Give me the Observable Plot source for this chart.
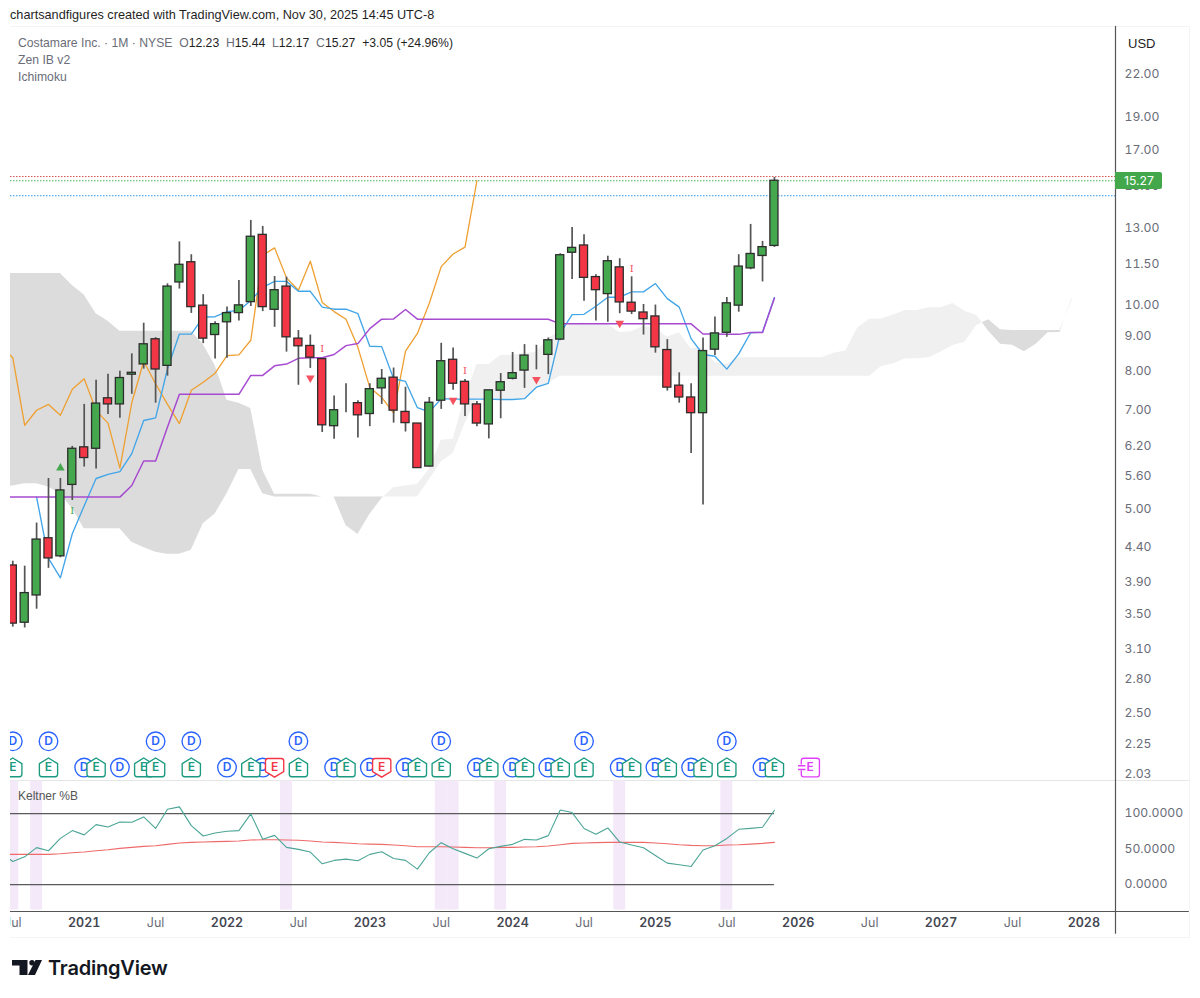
<!DOCTYPE html>
<html>
<head>
<meta charset="utf-8">
<script src="https://cdn.jsdelivr.net/npm/d3@7"></script>
<script src="https://cdn.jsdelivr.net/npm/@observablehq/plot@0.6"></script>
<style>
html,body{margin:0;padding:0;background:#fff;overflow:hidden}
#page{position:relative;width:1200px;height:998px;font-family:"Liberation Sans",Arial,sans-serif}
#page>*{position:absolute}
#credit{left:10px;top:8px;font-size:12.7px;color:#1f1f1f;white-space:nowrap}
#frame{left:10px;top:26px;width:1180px;height:912px;box-sizing:border-box;border:1px solid #f4f4f4;border-left:none}
#price{left:0;top:26px}
#osc{left:0;top:780px}
#mask{left:0;top:26px;width:10px;height:912px;background:#fff}
.legend{left:18px;font-size:12.2px;color:#6a6d78;white-space:nowrap}
.legend b{font-weight:400;color:#1f1f1f}
#usd{left:1128px;top:36px;font-size:13px;color:#1f1f1f}
#last{left:1115px;top:172px;width:47px;height:17px;line-height:17px;background:#43a84b;color:#fff;font-size:12.2px;font-family:Inter,sans-serif;padding-left:9px;box-sizing:border-box;border-radius:0 2px 2px 0}
#kb{left:18px;top:789px;font-size:12px;color:#555}
#logo{left:12px;top:960px}
#brand{left:48px;top:956px;font-size:20px;font-weight:600;color:#131722;letter-spacing:-.2px;font-family:Inter,sans-serif}
</style>
</head>
<body>
<div id="page">
  <div id="credit">chartsandfigures created with TradingView.com, Nov 30, 2025 14:45 UTC-8</div>
  <div id="frame"></div>
  <div id="price"></div>
  <div id="osc"></div>
  <div id="mask"></div>
  <div class="legend" style="top:36px">Costamare Inc. · 1M · NYSE&nbsp; O<b>12.23</b>&nbsp; H<b>15.44</b>&nbsp; L<b>12.17</b>&nbsp; C<b>15.27</b>&nbsp; <b>+3.05 (+24.96%)</b></div>
  <div class="legend" style="top:53px">Zen IB v2</div>
  <div class="legend" style="top:69.5px">Ichimoku</div>
  <div id="usd">USD</div>
  <div id="last">15.27</div>
  <div id="kb">Keltner %B</div>
  <svg id="logo" width="30" height="16" viewBox="0 0 30 16"><path d="M0 0H15.5V15H7.5V5.4H0Z" fill="#131722"/><circle cx="20" cy="2.7" r="2.7" fill="#131722"/><path d="M23.5 0H30L23 15H16Z" fill="#131722"/></svg>
  <div id="brand">TradingView</div>
</div>
<script>
// Month index: 0 = Jan 2021. Candles run Jul 2020 (-6) to Nov 2025 (58).
const firstMonth = -6;
const opens = [4.12,3.39,3.72,4.52,4.25,5.42,6.16,6.13,7.28,7.13,7.89,8.17,8.90,8.13,10.80,11.57,9.98,9.03,9.43,9.73,10.10,12.70,9.84,10.65,8.92,8.70,8.32,6.62,7.13,7.16,6.90,7.53,7.81,6.95,6.68,5.77,7.22,8.30,7.70,7.13,6.66,7.47,7.78,8.00,8.44,8.44,8.89,11.95,12.25,11.00,10.38,11.37,10.08,9.75,9.62,8.58,7.60,7.30,6.92,8.59,9.10,9.98,11.33,11.82,12.23];
const highs = [4.18,4.11,4.76,5.54,5.54,6.18,7.13,7.74,7.90,7.98,8.47,9.40,8.95,10.75,12.40,11.87,10.36,9.45,9.93,10.87,13.34,13.07,11.02,11.00,9.17,9.03,8.34,7.34,7.65,7.22,7.65,8.03,8.07,7.56,6.68,7.30,8.78,8.64,7.76,7.20,7.48,7.92,8.51,8.74,8.72,8.94,11.91,13.02,12.70,11.09,11.81,11.71,11.01,10.02,10.00,8.89,7.94,7.65,8.94,9.60,10.26,11.87,13.16,12.42,15.44];
const lows = [3.34,3.33,3.55,4.08,4.23,5.14,5.76,5.72,6.89,6.80,7.38,8.04,7.16,7.85,10.56,9.72,8.77,8.32,8.34,9.47,9.95,9.78,9.27,8.52,7.61,8.06,6.48,6.33,6.93,6.36,6.61,7.13,6.69,6.49,5.74,5.76,7.01,7.48,6.84,6.61,6.34,6.79,7.75,7.53,8.02,7.89,8.86,10.91,10.13,9.47,9.43,9.71,9.68,9.03,8.49,7.46,7.16,6.03,5.06,8.42,8.96,9.76,11.28,10.82,12.17];
const closes = [3.38,3.75,4.50,4.22,5.32,6.13,5.94,7.15,7.13,7.80,7.94,8.75,8.03,10.65,11.47,9.93,8.92,9.37,9.73,9.99,12.62,9.93,10.52,8.96,8.69,8.36,6.64,6.99,7.13,6.87,7.51,7.78,6.98,6.69,5.74,7.17,8.26,7.65,7.13,6.68,7.48,7.69,7.93,8.42,8.44,8.87,11.85,12.15,10.97,10.52,11.61,10.09,9.78,9.53,8.66,7.55,7.30,6.92,8.55,9.08,10.06,11.40,11.90,12.18,15.27];

// Ichimoku (lines that run off the left edge start one month earlier than the candles)
const tenkanStart = -4;
const tenkan = [5.20,4.22,3.95,4.59,5.05,5.54,5.62,5.67,6.03,6.75,6.81,8.05,9.06,9.06,9.60,9.61,9.78,9.82,10.16,10.62,10.84,10.84,10.48,10.48,9.93,9.86,9.86,9.71,8.69,8.68,7.78,7.71,7.05,6.95,7.27,7.26,7.26,7.26,7.26,7.25,7.25,7.27,7.56,7.66,9.08,9.68,9.69,9.96,10.27,10.27,10.46,10.46,10.76,10.22,9.93,8.92,8.45,8.40,8.04,8.47,9.10,9.12,10.26];
const kijunStart = -7;
const kijun = [5.20,5.20,5.20,5.20,5.20,5.20,5.20,5.20,5.20,5.20,5.20,5.41,5.88,5.88,6.60,7.38,7.38,7.38,7.38,7.38,7.38,7.87,7.87,8.13,8.18,8.34,8.36,8.36,8.45,8.71,8.77,9.23,9.53,9.54,9.85,9.53,9.53,9.53,9.53,9.53,9.53,9.53,9.53,9.53,9.53,9.53,9.53,9.38,9.38,9.38,9.38,9.38,9.38,9.38,9.38,9.38,9.38,9.38,9.38,9.06,9.06,9.05,9.05,9.11,9.11,10.24];
const chikouStart = -7;
const chikou = [8.69,8.36,6.64,6.99,7.13,6.87,7.51,7.78,6.98,6.69,5.74,7.17,8.26,7.65,7.13,6.68,7.48,7.69,7.93,8.42,8.44,8.87,11.85,12.15,10.97,10.52,11.61,10.09,9.78,9.53,8.66,7.55,7.30,6.92,8.55,9.08,10.06,11.40,11.90,12.18,15.27];
const cloudStart = -7;
const spanA = [5.40,5.40,5.44,5.44,5.38,5.26,5.00,4.67,4.67,4.67,4.67,4.46,4.38,4.31,4.28,4.28,4.34,4.75,4.91,5.26,5.71,5.71,5.26,5.20,5.20,5.20,5.20,5.20,5.20,4.72,4.58,4.90,5.17,5.37,5.40,5.43,5.71,6.31,6.33,7.30,8.17,8.17,8.42,8.42,8.49,8.51,8.92,9.14,9.38,9.41,9.35,9.36,9.11,9.13,9.30,9.24,8.96,9.10,8.62,8.65,8.22,8.17,8.36,8.36,8.36,8.36,8.36,8.36,8.36,8.36,8.49,8.55,9.25,9.53,9.54,9.67,9.82,9.82,9.91,9.91,10.05,9.79,9.65,9.15,8.75,8.72,8.53,8.75,9.10,9.11,10.24];
const spanB = [11.13,11.13,11.13,11.13,11.13,11.13,10.69,10.35,9.71,9.46,9.15,9.15,9.15,9.15,9.15,9.15,9.15,8.74,8.14,7.23,7.16,7.03,5.70,5.25,5.25,5.25,5.25,5.20,5.20,5.20,5.20,5.20,5.20,5.20,5.20,5.20,5.51,5.86,6.03,6.68,7.26,7.26,7.26,7.26,7.26,7.56,7.66,7.85,7.85,7.85,7.85,7.85,7.85,7.85,7.85,7.85,7.85,7.85,7.85,7.85,7.85,7.85,7.85,7.85,7.85,7.85,7.85,7.85,7.85,7.85,7.85,7.85,7.85,7.85,8.11,8.18,8.33,8.33,8.36,8.52,8.71,8.81,9.33,9.51,9.19,9.17,9.17,9.17,9.17,9.17,10.14];

// Level lines and signal marks
const levelRed = 15.49, levelGreen = 15.27, levelBlue = 14.51;
const triangleUpMonths = [-2], triangleUpPrices = [5.74];
const triangleDownMonths = [19,31,38,45], triangleDownPrices = [7.80,7.23,7.76,9.40];
const glyphGreenMonths = [-1], glyphGreenPrices = [4.97];
const glyphRedMonths = [20,32,46], glyphRedPrices = [8.62,8.00,11.33];

// Dividend and earnings events
const rowUpper = 2.264, rowLower = 2.07;
const dividendUpper = [-6,-3,6,9,18,30,42,54];
const dividendLower = [0,3,12,15,21,24,27,33,36,39,45,48,51,57];
const earningsGreen = [-6,-3,1,5,6,9,14,18,22,28,30,34,37,40,42,46,49,52,54,58];
const earningsRed = [16,25];
const earningsNext = [61];

// Keltner %B
const oscStart = -7;
const pctB = [45,32.5,39,52,47.6,65,76,70,84.4,81,88,87.7,95.3,79,106,109.4,83,68.4,72.6,75,76,99.5,63.7,69.3,52.4,49.5,45.8,29.2,34,35.8,33.5,42.5,46.2,36.8,34,21.7,44.8,59,50.5,43.9,37.3,50.5,53.8,56.6,63.7,62.7,68.9,105,101.4,79,70.8,79.7,59.9,55.7,51.9,41,30.2,27.8,25.5,48.6,54.7,65,77.8,79.2,80.7,104.7];
const pctBAvg = [42.5,42.5,42.5,42.5,42.5,43.4,44.8,45.8,47.6,49,51,52.4,53.8,54.7,56.6,58.5,59.4,59.9,60.4,60.8,61.3,62.7,63.2,63.2,62.7,62.3,61.3,59.9,59.4,58.5,57.5,57,56.6,55.7,54.7,53.3,53.3,53.3,52.8,52.4,51.9,51.9,52.4,52.4,52.8,53.3,54.2,56.1,58,58.5,59,59.4,59.4,59.4,59.4,58.5,57.5,56.1,55.2,54.7,54.7,55.7,56.1,57,58,59.4];
const bandMonths = [-6,-4,17,30,31,35,45,54];
const oscLevels = [0,100];

// Axes
const priceTicks = [22,19,17,15,13,11.5,10,9,8,7,6.2,5.6,5,4.4,3.9,3.5,3.1,2.8,2.5,2.25,2.03];
const oscTicks = [100,50,0];
const yearTicks = [0,12,24,36,48,60,72,84];
const yearLabels = ["2021","2022","2023","2024","2025","2026","2027","2028"];
const julTicks = [-6,6,18,30,42,54,66,78];

// Colours
const GREEN="#45a74e", RED="#f23645", WICK="#555", EDGE="#2d2d2d";
const BLUE="#42a5e8", PURPLE="#a64bd0", ORANGE="#ee9f2f";
const CLOUD_DARK="#dcdcdc", CLOUD_LIGHT="#f0f0f0";
const AXIS="#6a6d78", PANE="#555";
const DIV="#2962ff", EARN="#1a9a7f", EARN_RED="#f23645", EARN_NEXT="#e040fb";

const xDomain = [-6.193, 86.66];
const W = 1200, FONT = 'Inter, "Noto Sans", sans-serif';
const bw = 0.34;

const candles = opens.map((o,k)=>({m:firstMonth+k,o,h:highs[k],l:lows[k],c:closes[k],up:closes[k]>=o}));
const series = (start,vals)=>vals.map((v,k)=>({m:start+k,v}));
const pair = (ms,ps)=>ms.map((m,k)=>({m,p:ps[k]}));

// Cloud rows, with the crossings of the two spans added so each colour closes cleanly
const cloud = [];
spanA.forEach((a,k)=>{
  const b = spanB[k], m = cloudStart+k;
  if(k>0){
    const a0=spanA[k-1], b0=spanB[k-1], d0=a0-b0, d1=a-b;
    if(d0*d1<0){
      const t=d0/(d0-d1), v=a0+t*(a-a0);
      cloud.push({m:m-1+t,a:v,b:v});
    }
  }
  cloud.push({m,a,b});
});

const house = {draw(c,size){const r=Math.sqrt(size/Math.PI);
  c.moveTo(0,-r*1.03);c.lineTo(r*.98,-r*.42);c.lineTo(r*.98,r*.72);
  c.quadraticCurveTo(r*.98,r*.98,r*.72,r*.98);c.lineTo(-r*.72,r*.98);
  c.quadraticCurveTo(-r*.98,r*.98,-r*.98,r*.72);c.lineTo(-r*.98,-r*.42);c.closePath();}};
const houseDown = {draw(c,size){const r=Math.sqrt(size/Math.PI);
  c.moveTo(0,r*1.03);c.lineTo(r*.98,r*.42);c.lineTo(r*.98,-r*.72);
  c.quadraticCurveTo(r*.98,-r*.98,r*.72,-r*.98);c.lineTo(-r*.72,-r*.98);
  c.quadraticCurveTo(-r*.98,-r*.98,-r*.98,-r*.72);c.lineTo(-r*.98,r*.42);c.closePath();}};
const nextBox = {draw(c,size){const r=Math.sqrt(size/Math.PI);
  c.moveTo(-r*.7,-r);c.lineTo(r*.75,-r);c.quadraticCurveTo(r,-r,r,-r*.75);c.lineTo(r,r*.75);
  c.quadraticCurveTo(r,r,r*.75,r);c.lineTo(-r*.7,r);c.quadraticCurveTo(-r*.95,r,-r*.95,r*.75);
  c.lineTo(-r*.95,r*.32);c.moveTo(-r*.95,-r*.32);c.lineTo(-r*.95,-r*.75);c.quadraticCurveTo(-r*.95,-r,-r*.7,-r);
  c.moveTo(-r*1.3,-r*.2);c.lineTo(-r*.5,-r*.2);c.moveTo(-r*1.3,r*.2);c.lineTo(-r*.5,r*.2);}};

const event = (m,row,symbol,color,label,r=9.3)=>[
  Plot.dot([{m}],{x:"m",y:()=>row,r,symbol,fill:"#fff",stroke:color,strokeWidth:1.35}),
  Plot.text([{m}],{x:"m",y:()=>row,text:()=>label,fill:color,fontSize:12,fontWeight:600})
];
const earnings = [
  ...earningsGreen.map(m=>({m,s:house,c:EARN})),
  ...earningsRed.map(m=>({m,s:houseDown,c:EARN_RED}))
].sort((a,b)=>a.m-b.m);

const pricePlot = Plot.plot({
  width:W,height:754,marginTop:0,marginBottom:0,marginLeft:10,marginRight:85,
  style:{fontFamily:FONT,background:"transparent",overflow:"visible"},
  x:{type:"linear",domain:xDomain,axis:null},
  y:{type:"log",domain:[1.981,25.82],range:[754,0],axis:null},
  marks:[
    Plot.area(cloud,{x1:"m",y1:"a",y2:d=>Math.max(d.a,d.b),fill:CLOUD_DARK}),
    Plot.area(cloud,{x1:"m",y1:"b",y2:d=>Math.max(d.a,d.b),fill:CLOUD_LIGHT}),
    Plot.ruleY([levelRed],{stroke:"#d0504c",strokeWidth:1,strokeDasharray:"1.5,1.5"}),
    Plot.ruleY([levelGreen],{stroke:"#4fb058",strokeWidth:1,strokeDasharray:"1.5,1.5"}),
    Plot.ruleY([levelBlue],{stroke:"#2a98ee",strokeWidth:1,strokeDasharray:"1.5,1.5"}),
    Plot.line(series(chikouStart,chikou),{x:"m",y:"v",stroke:ORANGE,strokeWidth:1.3}),
    Plot.line(series(tenkanStart,tenkan),{x:"m",y:"v",stroke:BLUE,strokeWidth:1.35}),
    Plot.line(series(kijunStart,kijun),{x:"m",y:"v",stroke:PURPLE,strokeWidth:1.5}),
    Plot.ruleX(candles,{x:"m",y1:"l",y2:"h",stroke:WICK,strokeWidth:1.7}),
    Plot.rect(candles,{x1:d=>d.m-bw,x2:d=>d.m+bw,y1:"o",y2:"c",fill:d=>d.up?GREEN:RED,stroke:EDGE,strokeWidth:1.3}),
    Plot.dot(pair(triangleUpMonths,triangleUpPrices),{x:"m",y:"p",symbol:"triangle",r:3.2,fill:GREEN}),
    Plot.dot(pair(triangleDownMonths,triangleDownPrices),{x:"m",y:"p",symbol:"triangle",rotate:180,r:3.2,fill:"#f4525e"}),
    Plot.text(pair(glyphGreenMonths,glyphGreenPrices),{x:"m",y:"p",text:()=>"I",fill:GREEN,fontSize:10,fontFamily:"DejaVu Serif"}),
    Plot.text(pair(glyphRedMonths,glyphRedPrices),{x:"m",y:"p",text:()=>"I",fill:"#f4525e",fontSize:10,fontFamily:"DejaVu Serif"}),
    ...dividendUpper.flatMap(m=>event(m,rowUpper,"circle",DIV,"D")),
    ...dividendLower.flatMap(m=>event(m,rowLower,"circle",DIV,"D")),
    ...earnings.flatMap(e=>event(e.m,rowLower,e.s,e.c,"E")),
    ...earningsNext.flatMap(m=>event(m,rowLower,nextBox,EARN_NEXT,"E")),
    Plot.axisY(priceTicks,{anchor:"right",tickSize:0,tickPadding:9,textAnchor:"start",tickFormat:d=>d.toFixed(2),label:null,fill:AXIS,fontSize:12.2,dy:0.5}),
    Plot.ruleX([xDomain[1]],{stroke:PANE,strokeWidth:1.2}),
    Plot.ruleY([1.981],{stroke:"#e6e6e6",strokeWidth:1,x1:xDomain[0],x2:xDomain[1]+6.2})
  ]
});
document.getElementById("price").appendChild(pricePlot);

const oscPlot = Plot.plot({
  width:W,height:158,marginTop:0,marginBottom:27,marginLeft:10,marginRight:85,
  style:{fontFamily:FONT,background:"transparent",overflow:"visible"},
  x:{type:"linear",domain:xDomain,axis:null},
  y:{type:"linear",domain:[-38,146.6],axis:null},
  marks:[
    Plot.rect(bandMonths,{x1:m=>m-.5,x2:m=>m+.5,y1:()=>-36,y2:()=>146,fill:"#f3e9f8"}),
    Plot.ruleY(oscLevels,{x1:xDomain[0],x2:58,stroke:"#5a5a5a",strokeWidth:1.2}),
    Plot.line(series(oscStart,pctBAvg),{x:"m",y:"v",stroke:"#ee6a6a",strokeWidth:1.1}),
    Plot.line(series(oscStart,pctB),{x:"m",y:"v",stroke:"#4ba596",strokeWidth:1.1}),
    Plot.axisY(oscTicks,{anchor:"right",tickSize:0,tickPadding:9,textAnchor:"start",tickFormat:d=>d.toFixed(4),label:null,fill:AXIS,fontSize:12.2}),
    Plot.axisX(julTicks,{anchor:"bottom",tickSize:0,tickPadding:7,tickFormat:()=>"Jul",label:null,fill:AXIS,fontSize:12.5}),
    Plot.axisX(yearTicks,{anchor:"bottom",tickSize:0,tickPadding:7,tickFormat:m=>yearLabels[yearTicks.indexOf(m)],label:null,fill:"#434651",fontSize:12.5,fontWeight:600,style:{letterSpacing:"0.7px"}}),
    Plot.ruleY([-38],{stroke:PANE,strokeWidth:1.2,x1:xDomain[0],x2:xDomain[1]+6.2}),
    Plot.ruleX([xDomain[1]],{y1:146.6,y2:-70,stroke:PANE,strokeWidth:1.2})
  ]
});
document.getElementById("osc").appendChild(oscPlot);
</script>
</body>
</html>
